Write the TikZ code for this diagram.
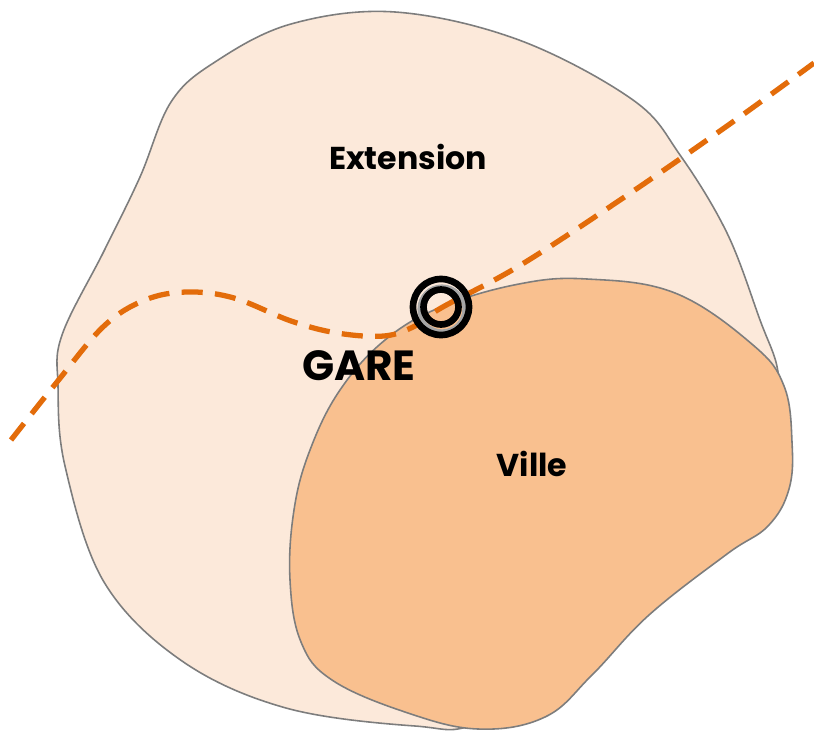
\documentclass[tikz,border=0pt]{standalone}
\usepackage{fontspec}
\setmainfont{Poppins}
\definecolor{peche}{RGB}{252,233,218}
\definecolor{abricot}{RGB}{249,192,143}
\definecolor{orangevoie}{RGB}{227,108,10}
\definecolor{contour}{RGB}{125,125,125}
\tikzset{
	zone/.style = {draw=contour, line width=0.9pt},
	zone_ext/.style = {zone, fill=peche},% zone d'extension
	zone_ville/.style = {zone, fill=abricot},% ville existante
	voie/.style = {orangevoie, line width=3pt,
		dash pattern=on 12pt off 7pt},% voie ferree
	etiquette/.style = {font=\bfseries, inner sep=0pt, text centered},
	anneau/.style = {circle, draw=black, line width=3.8pt, inner sep=0pt},% gare
	ombre/.style = {circle, draw=black!35, line width=2.4pt, inner sep=0pt}
}
\begin{document}
\begin{tikzpicture}[x=0.02cm, y=-0.02cm]
	\useasboundingbox (0,0) rectangle (814,730);
	\fill[white] (0,0) rectangle (814,730);
	% zones
	\draw[zone_ext] plot[smooth cycle, tension=0.6] coordinates {
		(395,12) (519,40) (633,100) (680,155) (727,233) (760,320) (778,372)
		(775,425) (740,485) (680,570) (600,650) (480,722) (415,726) (286,708)
		(182,661) (104,582) (65,466) (58,386) (62,335) (104,251) (140,177)
		(171,102) (215,62) (291,24)};
	\draw[zone_ville] plot[smooth cycle, tension=0.65] coordinates {
		(441,307) (519,284) (587,279) (675,293) (753,345) (784,386) (792,442)
		(789,489) (768,526) (727,554) (649,615) (592,675) (545,717) (478,729)
		(405,712) (332,680) (301,642) (290,580) (294,510) (310,450) (340,390)
		(385,340)};
	% voie
	\draw[voie] plot[smooth, tension=0.6] coordinates {
		(11,440) (57,382) (104,326) (145,300) (187,292) (234,298) (291,321)
		(337,333) (384,336) (415,326) (441,308) (519,266) (623,198) (727,126)
		(814,63)};
	% gare
	\node[ombre, minimum size=0.9cm] (gare_ombre) at (442,309) {};
	\node[anneau, minimum size=1.12cm] (gare_ext) at (441,307) {};
	\node[anneau, minimum size=0.70cm] (gare_int) at (441,307) {};
	% textes
	\node[etiquette, font=\bfseries\fontsize{18}{20}\selectfont] (extension) at (408,157) {Extension};
	\node[etiquette, font=\bfseries\fontsize{18}{20}\selectfont] (ville) at (532,464) {Ville};
	\node[etiquette, font=\bfseries\fontsize{24}{26}\selectfont] (gare) at (359,366) {GARE};
\end{tikzpicture}
\end{document}
